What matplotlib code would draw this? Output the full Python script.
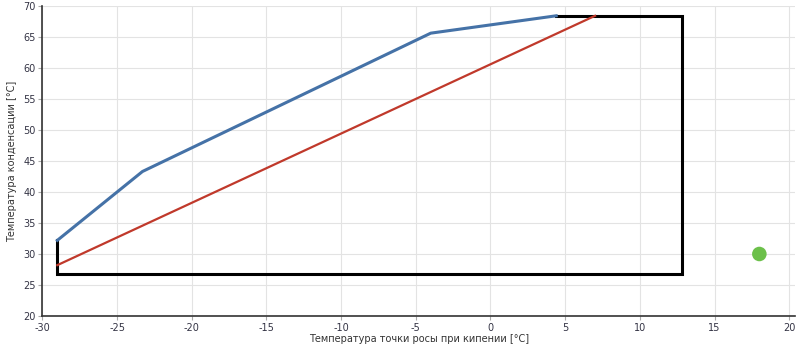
import numpy as np
import matplotlib.pyplot as plt

plt.rcParams["axes.unicode_minus"] = False

# envelope outline (black)
env_x = [-29.0, -29.0, 12.8, 12.8, 4.4]
env_y = [32.2, 26.8, 26.8, 68.4, 68.4]

# blue limit line
blue_x = [-29.0, -23.3, -4.0, 4.4]
blue_y = [32.2, 43.3, 65.6, 68.4]

# red line
red_x = [-29.0, 7.0]
red_y = [28.2, 68.4]

# operating point
pt_x = [18.0]
pt_y = [30.0]

fig = plt.figure(figsize=(8, 3.45), dpi=100)
ax = fig.add_axes([0.053, 0.084, 0.941, 0.899])

ax.plot(env_x, env_y, color="black", lw=2.2, solid_joinstyle="miter", zorder=3)
ax.plot(blue_x, blue_y, color="#4572a7", lw=2.2, zorder=4)
ax.plot(red_x, red_y, color="#c0392b", lw=1.6, zorder=4)
ax.scatter(pt_x, pt_y, s=110, color="#6cc04a", zorder=5, edgecolors="none")

ax.set_xlim(-30, 20.4)
ax.set_ylim(20, 70)
ax.set_xticks(np.arange(-30, 21, 5))
ax.set_yticks(np.arange(20, 71, 5))
ax.grid(True, color="#e3e3e3", lw=0.8)
ax.set_axisbelow(True)

for s in ["top", "right"]:
    ax.spines[s].set_visible(False)
ax.spines["left"].set_color("#333333")
ax.spines["bottom"].set_color("#333333")
ax.spines["left"].set_linewidth(1.2)
ax.spines["bottom"].set_linewidth(1.2)

ax.tick_params(axis="both", labelsize=7, colors="#aaaaaa", labelcolor="#333344",
               length=3, width=0.8, pad=2)

ax.set_xlabel("Температура точки росы при кипении [°C]", fontsize=7, color="#333333", labelpad=1)
ax.set_ylabel("Температура конденсации [°C]", fontsize=7, color="#333333", labelpad=4)

fig.savefig("out.png", dpi=100)
